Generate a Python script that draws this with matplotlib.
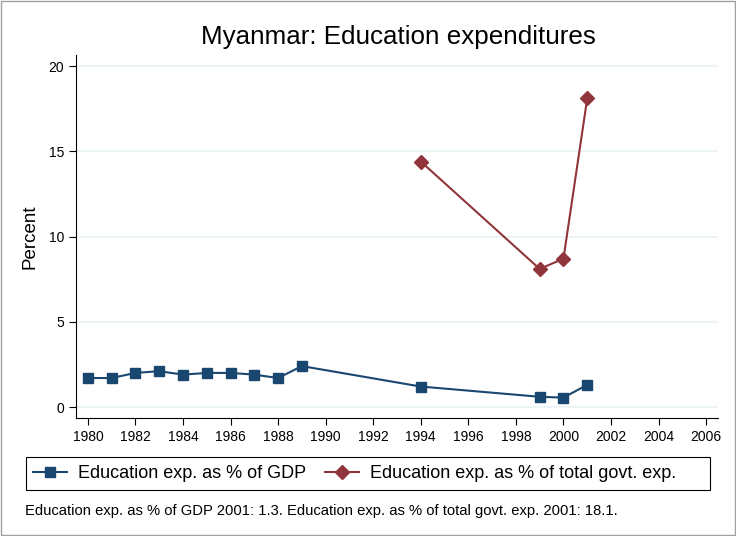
import matplotlib.pyplot as plt
from matplotlib.patches import Rectangle

plt.rcParams['font.family'] = ['Liberation Sans', 'DejaVu Sans']

# data
gdp_years = [1980, 1981, 1982, 1983, 1984, 1985, 1986, 1987, 1988, 1989, 1994, 1999, 2000, 2001]
gdp_share = [1.7, 1.7, 2.0, 2.1, 1.9, 2.0, 2.0, 1.9, 1.7, 2.4, 1.2, 0.6, 0.55, 1.3]
govt_years = [1994, 1999, 2000, 2001]
govt_share = [14.4, 8.1, 8.7, 18.1]

xticks = list(range(1980, 2007, 2))
yticks = [0, 5, 10, 15, 20]

blue = "#1a476f"
red = "#90353b"

W, H = 736, 536
fig = plt.figure(figsize=(W / 100, H / 100), dpi=100)
ax = fig.add_axes([76 / W, 118 / H, 642 / W, 363 / H])

ax.plot(gdp_years, gdp_share, color=blue, marker="s", markersize=7, lw=1.5,
        label="Education exp. as % of GDP")
ax.plot(govt_years, govt_share, color=red, marker="D", markersize=7, lw=1.5,
        label="Education exp. as % of total govt. exp.")

ax.set_xlim(1979.5, 2006.5)
ax.set_ylim(-0.645, 20.65)
ax.set_xticks(xticks)
ax.set_yticks(yticks)
ax.tick_params(labelsize=10, length=5, color="black")
ax.yaxis.grid(True, color="#eaf2f3", lw=1.2)
ax.set_axisbelow(True)
for s in ["top", "right"]:
    ax.spines[s].set_visible(False)
ax.set_ylabel("Percent", fontsize=13.5)
ax.yaxis.set_label_coords(-37 / 642, 0.5)

fig.text(398 / W, 1 - 37 / H, "Myanmar: Education expenditures", fontsize=18.7,
         ha="center", va="center")

# legend: frame drawn separately so it can be wider than its contents (Stata style)
fig.patches.append(Rectangle((26 / W, 1 - 490 / H), 684 / W, 33 / H, transform=fig.transFigure,
                             fill=False, edgecolor="black", lw=0.8))
fig.legend(loc="center left", bbox_to_anchor=(33 / W, 1 - 473.5 / H), ncol=2,
           fontsize=13, frameon=False, handlelength=1.88, handletextpad=0.61,
           columnspacing=1.05, borderpad=0, borderaxespad=0)

fig.text(25 / W, 1 - 511 / H,
         "Education exp. as % of GDP 2001: 1.3. Education exp. as % of total govt. exp. 2001: 18.1.",
         fontsize=10.6, va="center")

fig.patches.append(Rectangle((0.001, 0.001), 0.998, 0.998, transform=fig.transFigure,
                             fill=False, edgecolor="#a0a0a0", lw=1))

fig.savefig("out.png", dpi=100)
